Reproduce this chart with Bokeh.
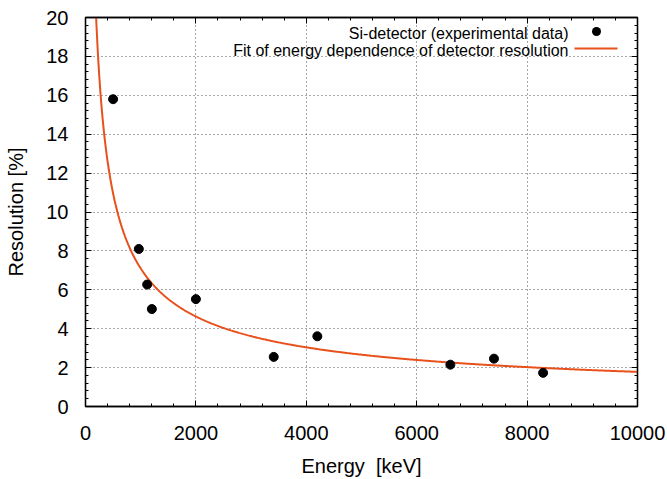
import numpy as np
from bokeh.plotting import figure
from bokeh.models import (Range1d, SingleIntervalTicker, LinearAxis, Label,
                          BoxAnnotation, CustomLabelingPolicy)
from bokeh.embed import file_html
from bokeh.resources import INLINE

# ---- data ----
energy_kev = [500, 966, 1117, 1202, 2000, 3410, 4200, 6610, 7400, 8290]
resolution_pct = [15.8, 8.1, 6.27, 5.01, 5.52, 2.55, 3.61, 2.15, 2.46, 1.73]

# fit: R(E) = fit_a * E^(-fit_p) + fit_c
fit_a = 574.0
fit_p = 0.64
fit_c = 0.2
fit_e = np.linspace(150, 10000, 600)
fit_r = fit_a * fit_e ** (-fit_p) + fit_c

x_ticks_step = 2000
y_ticks_step = 2

legend_labels = ["Si-detector (experimental data)",
                 "Fit of energy dependence of detector resolution"]

FONT = "Liberation Sans"
FIT_COLOR = "#e8501c"

p = figure(width=667, height=479, output_backend="svg", toolbar_location=None,
           x_range=Range1d(0, 10000), y_range=Range1d(0, 20),
           min_border_left=85, min_border_right=30, min_border_top=17,
           min_border_bottom=72)
p.background_fill_color = "white"
p.border_fill_color = "white"
p.outline_line_color = "black"
p.outline_line_width = 1.3

xt = SingleIntervalTicker(interval=x_ticks_step, num_minor_ticks=5)
yt = SingleIntervalTicker(interval=y_ticks_step, num_minor_ticks=5)

for ax, t in ((p.xaxis[0], xt), (p.yaxis[0], yt)):
    ax.ticker = t
    ax.major_tick_in = 6
    ax.major_tick_out = 0
    ax.minor_tick_in = 3
    ax.minor_tick_out = 0
    ax.axis_line_color = "black"
    ax.axis_line_width = 1.3
    ax.major_tick_line_color = "black"
    ax.minor_tick_line_color = "black"
    ax.major_label_text_font = FONT
    ax.major_label_text_font_size = "20px"
    ax.major_label_text_color = "black"
    ax.axis_label_text_font = FONT
    ax.axis_label_text_font_size = "20px"
    ax.axis_label_text_font_style = "normal"
    ax.axis_label_text_color = "black"

p.xaxis[0].axis_label = "Energy\u00a0 [keV]"
p.yaxis[0].axis_label = "Resolution [%]"
p.xaxis[0].major_label_standoff = 19
p.yaxis[0].major_label_standoff = 17
p.xaxis[0].axis_label_standoff = 12
p.yaxis[0].axis_label_standoff = 16

# mirrored ticks on top and right (no labels)
hide_all = CustomLabelingPolicy(code="""
    const all = [...indices]
    for (const i of all) indices.unset(i)
    return indices
""")
for loc, t in (("above", xt), ("right", yt)):
    ax = LinearAxis(ticker=t, major_label_text_font_size="1px",
                    major_label_policy=hide_all,
                    major_label_standoff=0, major_tick_in=6, major_tick_out=0,
                    minor_tick_in=3, minor_tick_out=0,
                    axis_line_color="black", axis_line_width=1.3,
                    major_tick_line_color="black",
                    minor_tick_line_color="black")
    p.add_layout(ax, loc)

p.xgrid[0].ticker = xt
p.ygrid[0].ticker = yt
for g in (p.xgrid[0], p.ygrid[0]):
    g.grid_line_color = "#505050"
    g.grid_line_dash = "1 3"
    g.grid_line_width = 1

p.line(fit_e, fit_r, line_color=FIT_COLOR, line_width=2)
p.scatter(energy_kev, resolution_pct, size=9, color="black")

# legend (text on the left, key on the right, as in gnuplot)
rows_y = [373, 356]
for lbl, yy in zip(legend_labels, rows_y):
    p.add_layout(Label(x=483, y=yy, x_units="screen", y_units="screen",
                       text=lbl, text_align="right", text_baseline="middle",
                       text_font=FONT, text_font_size="16px",
                       text_color="black"))
p.add_layout(BoxAnnotation(left=506.5, right=515.5, bottom=370.5, top=379.5,
                           left_units="screen", right_units="screen",
                           bottom_units="screen", top_units="screen",
                           fill_color="black", fill_alpha=1,
                           line_color=None, border_radius=5))
p.add_layout(BoxAnnotation(left=489, right=532, bottom=357, top=359,
                           left_units="screen", right_units="screen",
                           bottom_units="screen", top_units="screen",
                           fill_color=FIT_COLOR, fill_alpha=1,
                           line_color=None))

open("out.html", "w").write(file_html(p, INLINE))
